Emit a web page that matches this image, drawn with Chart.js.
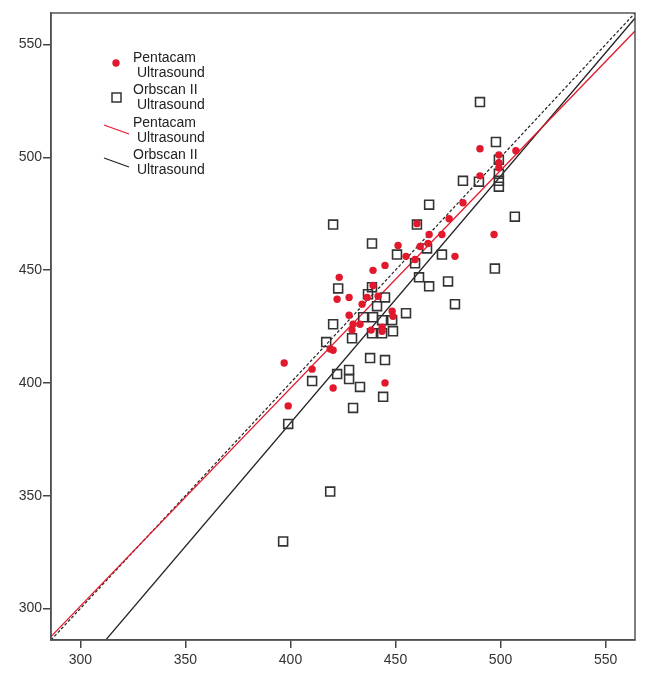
<!DOCTYPE html>
<html>
<head>
<meta charset="utf-8">
<script src="https://cdn.jsdelivr.net/npm/chart.js@4.4.0/dist/chart.umd.min.js"></script>
<style>
  body { margin: 0; background: #fff; }
  canvas { display: block; }
</style>
</head>
<body>
<canvas id="chart" width="658" height="680"></canvas>
<script>
// Pentacam vs ultrasound (red dots)
var pentacamX = [490.2, 507.3, 499.2, 499.2, 499.2, 490.2, 482.1, 475.5, 460.2, 496.9, 472.1, 466.0, 465.5, 461.7, 451.2,
  455.0, 459.3, 478.3, 445.0, 439.3, 423.2, 439.3, 422.2, 427.9, 436.5, 441.7, 434.1, 448.4, 448.8, 427.9,
  429.8, 433.1, 429.3, 438.4, 443.6, 443.6, 418.9, 420.3, 397.0, 410.3, 420.3, 445.0, 398.9]
var pentacamY = [503.8, 502.9, 501.1, 497.6, 495.4, 491.8, 479.9, 472.8, 470.6, 465.8, 465.8, 465.8, 461.8, 460.5, 460.9,
  456.1, 454.7, 456.1, 452.1, 449.9, 446.8, 443.2, 437.1, 437.9, 437.9, 438.4, 434.9, 431.8, 429.5, 430.0,
  426.0, 426.0, 423.4, 423.4, 424.7, 422.9, 415.0, 414.5, 408.8, 406.1, 397.7, 400.0, 389.8]

// Orbscan II vs ultrasound (open squares)
var orbscanX = [490.2, 497.8, 499.2, 499.2, 499.2, 499.2, 482.1, 489.7, 466.0, 506.8, 420.3, 460.2, 438.8, 450.7, 465.0,
  472.1, 459.3, 497.3, 461.2, 466.0, 475.0, 422.7, 478.3, 438.8, 436.9, 445.0, 441.2, 455.0, 420.3, 434.6,
  439.3, 443.6, 448.4, 429.3, 438.8, 443.6, 448.8, 417.0, 437.9, 445.0, 422.2, 427.9, 427.9, 410.3, 433.1,
  444.1, 429.8, 398.9, 418.9, 396.5]
var orbscanY = [524.5, 506.8, 498.9, 492.7, 489.6, 487.0, 489.6, 489.2, 479.0, 473.7, 470.2, 470.2, 461.8, 456.9, 459.6,
  456.9, 453.0, 450.7, 446.8, 442.8, 445.0, 441.9, 434.9, 442.4, 439.3, 437.9, 434.0, 430.9, 426.0, 429.1,
  429.1, 427.8, 427.8, 419.8, 422.0, 422.0, 422.9, 418.1, 411.0, 410.1, 403.9, 405.7, 401.7, 400.8, 398.2,
  393.8, 388.9, 381.8, 351.8, 329.7]

// fit lines (end points) and line of equality
var pentacamFitX = [286, 564]
var pentacamFitY = [287.5, 556]
var orbscanFitX = [312.4, 564]
var orbscanFitY = [286.4, 561.7]
var equalityX = [286, 564]
var equalityY = [286, 564]

var axisMin = 286
var axisMax = 564
var tickValues = [300, 350, 400, 450, 500, 550]

var red = 'rgb(226, 24, 44)'
var dark = '#333'

function toPoints (xs, ys) {
  return xs.map(function (x, i) { return {x: x, y: ys[i]} })
}

var frame = {
  id: 'frame',
  afterDraw: function (chart) {
    var ctx = chart.ctx
    var a = chart.chartArea
    ctx.save()
    ctx.strokeStyle = '#555'
    ctx.lineWidth = 1.5
    ctx.strokeRect(a.left, a.top, a.right - a.left, a.bottom - a.top)
    ctx.restore()
  }
}

// legend inside the plot, two line labels
var insideLegend = {
  id: 'insideLegend',
  afterDraw: function (chart) {
    var ctx = chart.ctx
    ctx.save()
    ctx.font = '14px "Liberation Sans", Arial, sans-serif'
    ctx.fillStyle = '#222'
    ctx.textBaseline = 'middle'
    var rows = [
      ['Pentacam', 'Ultrasound', 58],
      ['Orbscan II', 'Ultrasound', 90],
      ['Pentacam', 'Ultrasound', 123],
      ['Orbscan II', 'Ultrasound', 155]
    ]
    rows.forEach(function (r) {
      ctx.fillText(r[0], 133, r[2])
      ctx.fillText(r[1], 137, r[2] + 15.5)
    })
    // symbols
    ctx.fillStyle = red
    ctx.beginPath()
    ctx.arc(116, 63, 3.7, 0, Math.PI * 2)
    ctx.fill()
    ctx.strokeStyle = dark
    ctx.lineWidth = 1.5
    ctx.strokeRect(112, 93, 9, 9)
    ctx.lineWidth = 1.3
    ctx.strokeStyle = red
    ctx.beginPath()
    ctx.moveTo(104, 125)
    ctx.lineTo(129, 134)
    ctx.stroke()
    ctx.strokeStyle = '#222'
    ctx.beginPath()
    ctx.moveTo(104, 158)
    ctx.lineTo(129, 167)
    ctx.stroke()
    ctx.restore()
  }
}

function axis (fit) {
  return {
    type: 'linear',
    min: axisMin,
    max: axisMax,
    afterBuildTicks: function (scale) {
      scale.ticks = tickValues.map(function (v) { return {value: v} })
    },
    afterFit: fit,
    grid: {display: true, drawOnChartArea: false, drawTicks: true, tickLength: 8, color: '#444', lineWidth: 1.5},
    border: {display: true, color: '#444', width: 1.5},
    ticks: {color: '#333', font: {family: '"Liberation Sans", Arial, sans-serif', size: 14}}
  }
}

var xAxis = axis(function (scale) { scale.height = 40 })
xAxis.ticks.padding = 4
var yAxis = axis(function (scale) { scale.width = 51 })
yAxis.ticks.padding = 1

new Chart(document.getElementById('chart'), {
  type: 'scatter',
  data: {
    datasets: [
      {
        label: 'Pentacam Ultrasound',
        data: toPoints(pentacamX, pentacamY),
        pointStyle: 'circle',
        pointRadius: 3.7,
        backgroundColor: red,
        borderWidth: 0
      },
      {
        label: 'Orbscan II Ultrasound',
        data: toPoints(orbscanX, orbscanY),
        pointStyle: 'rect',
        pointRadius: 6.3,
        backgroundColor: 'rgba(0,0,0,0)',
        borderColor: dark,
        borderWidth: 1.6
      },
      {
        label: 'Pentacam fit',
        data: toPoints(pentacamFitX, pentacamFitY),
        showLine: true,
        pointRadius: 0,
        borderColor: red,
        borderWidth: 1.3
      },
      {
        label: 'Orbscan II fit',
        data: toPoints(orbscanFitX, orbscanFitY),
        showLine: true,
        pointRadius: 0,
        borderColor: '#222',
        borderWidth: 1.4
      },
      {
        label: 'Equality',
        data: toPoints(equalityX, equalityY),
        showLine: true,
        pointRadius: 0,
        borderColor: '#222',
        borderWidth: 1.2,
        borderDash: [3, 2]
      }
    ]
  },
  options: {
    responsive: false,
    animation: false,
    layout: {padding: {top: 13, right: 23, left: 0, bottom: 0}},
    plugins: {
      legend: {display: false},
      tooltip: {enabled: false}
    },
    scales: {x: xAxis, y: yAxis}
  },
  plugins: [frame, insideLegend]
})
</script>
</body>
</html>
